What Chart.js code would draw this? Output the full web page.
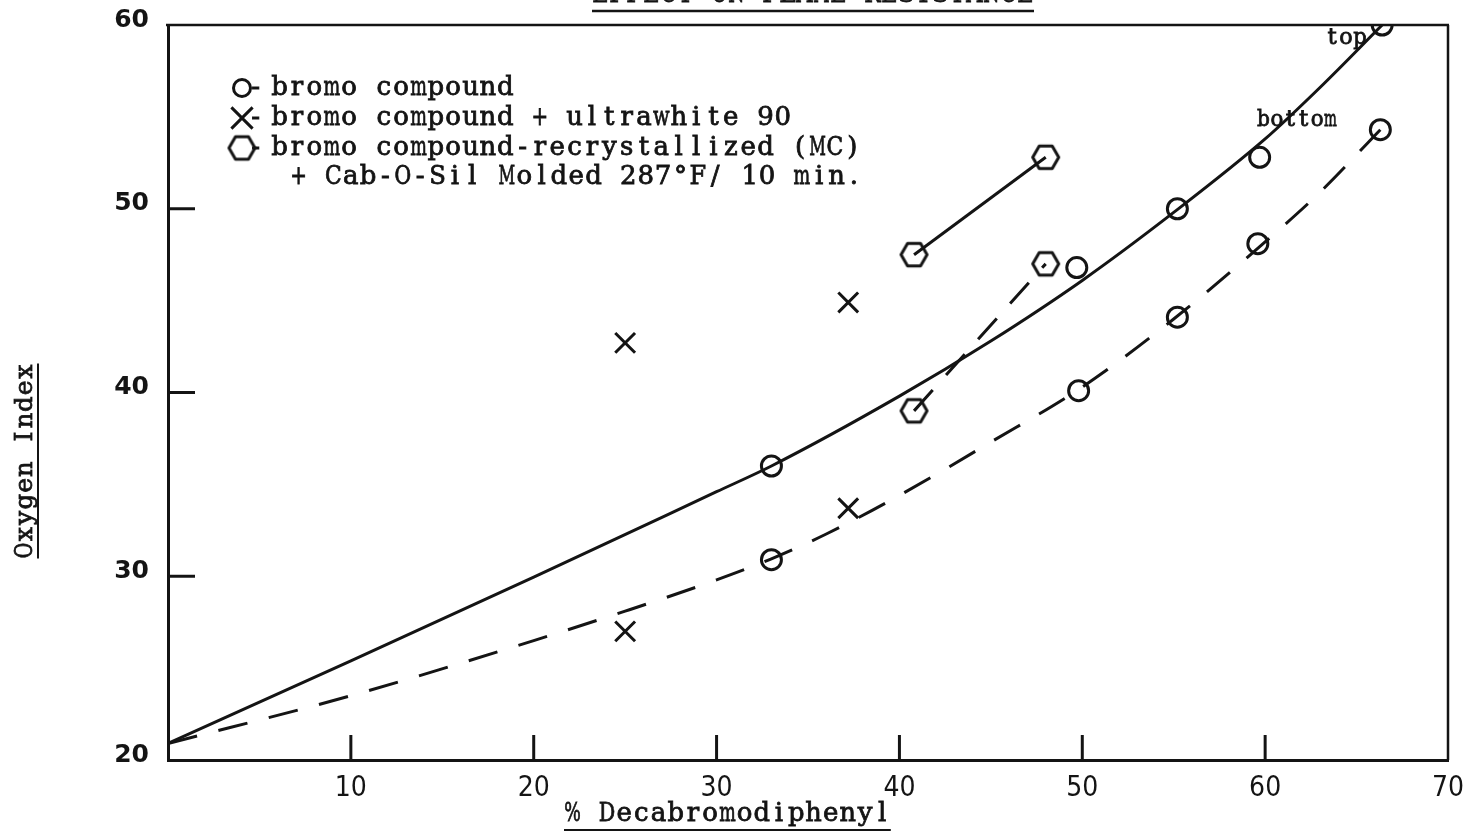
<!DOCTYPE html>
<html>
<head>
<meta charset="utf-8">
<title>Effect on Flame Resistance</title>
<script src="https://cdn.jsdelivr.net/npm/chart.js@4.4.1/dist/chart.umd.min.js"></script>
<style>
  html, body { margin: 0; padding: 0; background: #fff; }
  #wrap { width: 1465px; height: 836px; }
</style>
</head>
<body>
<div id="wrap"><canvas id="oiChart" width="1465" height="836"></canvas></div>
<script>
// % decabromodiphenyl vs oxygen index

// fitted curves (solid = top, dashed = bottom)
const topCurveX = [0, 10, 20, 30, 33, 40, 45, 50, 55, 60, 63, 66.4];
const topCurveY = [20.9, 25.4, 29.95, 34.6, 36.0, 39.8, 42.8, 46.1, 49.8, 53.8, 56.6, 60.0];
const bottomCurveX = [0, 10, 20, 25, 30, 33, 36, 40, 45, 50, 55, 60, 63, 66.3];
const bottomCurveY = [20.9, 23.5, 26.5, 28.1, 29.8, 30.95, 32.3, 34.4, 37.3, 40.3, 44.0, 48.2, 50.9, 54.3];

// bromo compound
const bromoTopX = [33.0, 49.7, 55.2, 59.7, 66.4];
const bromoTopY = [36.0, 46.8, 50.0, 52.8, 60.0];
const bromoBottomX = [33.0, 49.8, 55.2, 59.6, 66.3];
const bromoBottomY = [30.9, 40.1, 44.1, 48.1, 54.3];

// bromo compound + ultrawhite 90
const ultraX = [25.0, 37.2, 25.0, 37.2];
const ultraY = [42.7, 44.9, 27.0, 33.7];

// recrystallized (MC) + Cab-O-Sil
const recrysTopX = [40.8, 48.0];
const recrysTopY = [47.5, 52.8];
const recrysBottomX = [40.8, 48.0];
const recrysBottomY = [39.0, 47.0];

const xTicks = [0, 10, 20, 30, 40, 50, 60, 70];
const yTicks = [20, 30, 40, 50, 60];

const legendLines = [
  'bromo compound',
  'bromo compound + ultrawhite 90',
  'bromo compound-recrystallized (MC)',
  '+ Cab-O-Sil Molded 287°F/ 10 min.'
];

const ink = '#141414';
const SERIF = '"DejaVu Serif", "Liberation Serif", serif';

function toPoints(xs, ys) {
  return xs.map((x, i) => ({ x: x, y: ys[i] }));
}

// hexagon marker (points left/right, flat top)
function hexagonMark(r, lw) {
  const size = Math.ceil(2 * r + lw + 4);
  const c = document.createElement('canvas');
  c.width = size;
  c.height = size;
  const g = c.getContext('2d');
  g.strokeStyle = ink;
  g.lineWidth = lw;
  g.lineJoin = 'round';
  g.beginPath();
  for (let i = 0; i < 6; i++) {
    const a = Math.PI / 3 * i;
    const px = size / 2 + r * Math.cos(a);
    const py = size / 2 + r * Math.sin(a);
    if (i === 0) g.moveTo(px, py); else g.lineTo(px, py);
  }
  g.closePath();
  g.stroke();
  return c;
}
const hexMark = hexagonMark(13, 3);

const circleStyle = {
  showLine: false,
  pointStyle: 'circle',
  pointRadius: 10,
  pointBorderWidth: 3,
  pointBorderColor: ink,
  pointBackgroundColor: 'rgba(0,0,0,0)'
};

// typewriter-style text: every character sits in a fixed cell
function typeText(ctx, text, x, y, cell, size, align) {
  ctx.font = size + 'px ' + SERIF;
  ctx.textAlign = 'center';
  ctx.textBaseline = 'middle';
  ctx.fillStyle = ink;
  ctx.strokeStyle = ink;
  ctx.lineWidth = 0.8;
  const total = cell * text.length;
  const start = align === 'center' ? x - total / 2 : x;
  for (let i = 0; i < text.length; i++) {
    const ch = text[i];
    if (ch === ' ') continue;
    const w = ctx.measureText(ch).width;
    const k = Math.min(1, cell * 0.96 / w);
    ctx.save();
    ctx.translate(start + cell * (i + 0.5), y);
    ctx.scale(k, 1);
    ctx.fillText(ch, 0, 0);
    ctx.strokeText(ch, 0, 0);
    ctx.restore();
  }
  return { start: start, end: start + total };
}

function hLine(ctx, x1, x2, y, w) {
  ctx.beginPath();
  ctx.lineWidth = w;
  ctx.moveTo(x1, y);
  ctx.lineTo(x2, y);
  ctx.stroke();
}

function vLine(ctx, x, y1, y2, w) {
  ctx.beginPath();
  ctx.lineWidth = w;
  ctx.moveTo(x, y1);
  ctx.lineTo(x, y2);
  ctx.stroke();
}

// frame, inner tick marks, legend, titles and notes
const decorPlugin = {
  id: 'decor',
  afterDraw(chart) {
    const ctx = chart.ctx;
    const area = chart.chartArea;
    const xs = chart.scales.x;
    const ys = chart.scales.y;
    ctx.save();
    ctx.strokeStyle = ink;
    ctx.lineCap = 'butt';

    // top and right border
    hLine(ctx, area.left - 2, area.right + 1, area.top, 2.5);
    vLine(ctx, area.right, area.top, area.bottom, 2.5);

    // tick marks pointing into the plot
    ys.ticks.forEach(t => {
      if (t.value <= ys.min || t.value >= ys.max) return;
      hLine(ctx, area.left, area.left + 27, ys.getPixelForValue(t.value), 3);
    });
    xs.ticks.forEach(t => {
      if (t.value <= xs.min || t.value >= xs.max) return;
      vLine(ctx, xs.getPixelForValue(t.value), area.bottom, area.bottom - 25, 3);
    });

    // legend
    const cell = 17.35;
    const rows = [88, 118, 148, 177];
    const marks = [
      { pointStyle: 'circle', radius: 8.5, borderWidth: 3 },
      { pointStyle: 'crossRot', radius: 15, borderWidth: 3 },
      { pointStyle: hexMark, radius: 13, borderWidth: 3 }
    ];
    marks.forEach((m, i) => {
      ctx.fillStyle = 'rgba(0,0,0,0)';
      ctx.strokeStyle = ink;
      ctx.lineWidth = 3;
      Chart.helpers.drawPoint(ctx, Object.assign({ rotation: 0 }, m), 242, rows[i]);
      typeText(ctx, '-', 247, rows[i], cell, 26);
    });
    legendLines.forEach((s, i) => {
      typeText(ctx, s, i < 3 ? 271 : 290, rows[i], cell, 26);
    });

    // notes on the last pair of points
    typeText(ctx, 'top', 1346, 38, 14, 23, 'center');
    typeText(ctx, 'bottom', 1297, 120, 13.4, 23, 'center');

    // chart title, mostly cut by the top edge
    const t = typeText(ctx, 'EFFECT ON FLAME RESISTANCE', 813, -5, 17, 26, 'center');
    hLine(ctx, t.start, t.end, 11, 2.5);

    // x axis title
    const xt = typeText(ctx, '% Decabromodiphenyl', 564, 814, 17.2, 26);
    hLine(ctx, xt.start, xt.end, 830, 2);

    // y axis title, rotated
    ctx.save();
    ctx.translate(25, 461);
    ctx.rotate(-Math.PI / 2);
    const yt = typeText(ctx, 'Oxygen Index', 0, 0, 16.25, 25, 'center');
    hLine(ctx, yt.start, yt.end, 13, 2);
    ctx.restore();

    ctx.restore();
  }
};

function noEdgePadding(s) {
  s.paddingLeft = 0;
  s.paddingRight = 0;
  s.paddingTop = 0;
  s.paddingBottom = 0;
}

new Chart(document.getElementById('oiChart'), {
  type: 'scatter',
  data: {
    datasets: [
      {
        label: 'top curve',
        data: toPoints(topCurveX, topCurveY),
        showLine: true,
        borderColor: ink,
        borderWidth: 3,
        pointRadius: 0,
        cubicInterpolationMode: 'monotone'
      },
      {
        label: 'bottom curve',
        data: toPoints(bottomCurveX, bottomCurveY),
        showLine: true,
        borderColor: ink,
        borderWidth: 3,
        borderDash: [30, 22],
        pointRadius: 0,
        cubicInterpolationMode: 'monotone'
      },
      Object.assign({ label: 'bromo compound (top)', data: toPoints(bromoTopX, bromoTopY) }, circleStyle),
      Object.assign({ label: 'bromo compound (bottom)', data: toPoints(bromoBottomX, bromoBottomY) }, circleStyle),
      {
        label: 'bromo compound + ultrawhite 90',
        data: toPoints(ultraX, ultraY),
        showLine: false,
        pointStyle: 'crossRot',
        pointRadius: 14,
        pointBorderWidth: 3,
        pointBorderColor: ink
      },
      {
        label: 'recrystallized (top)',
        data: toPoints(recrysTopX, recrysTopY),
        showLine: true,
        borderColor: ink,
        borderWidth: 3,
        pointStyle: hexMark,
        pointRadius: 13
      },
      {
        label: 'recrystallized (bottom)',
        data: toPoints(recrysBottomX, recrysBottomY),
        showLine: true,
        borderColor: ink,
        borderWidth: 3,
        borderDash: [28, 20],
        pointStyle: hexMark,
        pointRadius: 13
      }
    ]
  },
  options: {
    responsive: false,
    animation: false,
    devicePixelRatio: 1,
    layout: { padding: { top: 25, right: 16, left: 0, bottom: 0 } },
    plugins: {
      legend: { display: false },
      tooltip: { enabled: false },
      title: { display: false }
    },
    scales: {
      x: {
        type: 'linear',
        min: 0,
        max: 70,
        afterFit: s => { s.height = 76; noEdgePadding(s); },
        afterBuildTicks: s => { s.ticks = xTicks.map(v => ({ value: v })); },
        ticks: {
          callback: v => (v === 0 ? '' : v),
          color: ink,
          padding: 12,
          maxRotation: 0,
          font: { family: '"DejaVu Sans Condensed", "Liberation Sans Narrow", "DejaVu Sans", sans-serif', size: 28 }
        },
        grid: { display: false, drawTicks: false },
        border: { display: true, color: ink, width: 3 }
      },
      y: {
        type: 'linear',
        min: 20,
        max: 60,
        afterFit: s => { s.width = 168; noEdgePadding(s); },
        afterBuildTicks: s => { s.ticks = yTicks.map(v => ({ value: v })); },
        ticks: {
          color: ink,
          padding: 19,
          labelOffset: -5,
          font: { family: '"DejaVu Sans", sans-serif', size: 25, weight: 'bold' }
        },
        grid: { display: false, drawTicks: false },
        border: { display: true, color: ink, width: 3 }
      }
    }
  },
  plugins: [decorPlugin]
});
</script>
</body>
</html>
